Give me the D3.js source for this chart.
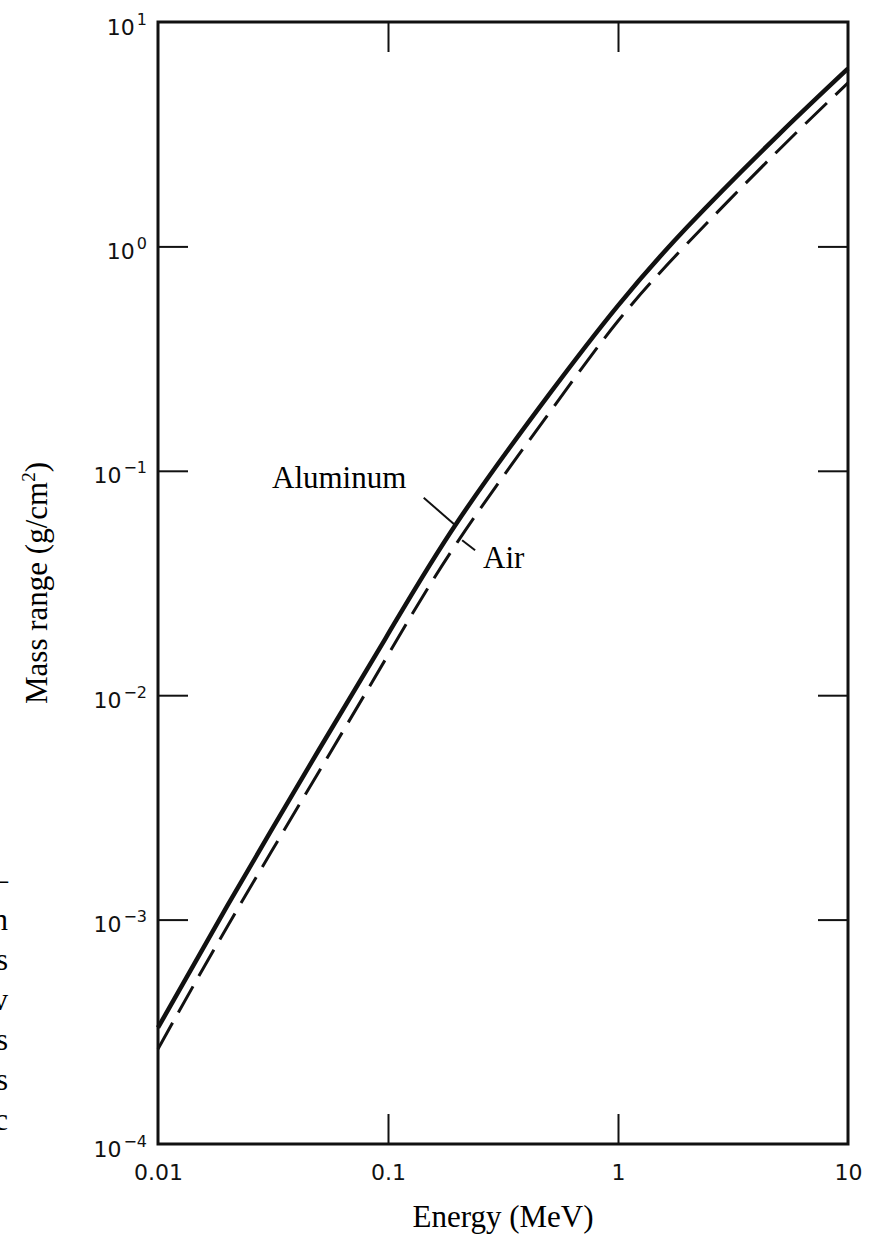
<!DOCTYPE html>
<html>
<head>
<meta charset="utf-8">
<script src="https://cdn.jsdelivr.net/npm/d3@7"></script>
<style>
  body { margin: 0; background: #fff; }
  svg { display: block; }
</style>
</head>
<body>
<div id="chart"></div>
<script>
// electron mass range (MeV -> g/cm2)
const energy   = [0.01, 0.02, 0.05, 0.1, 0.2, 0.5, 1, 2, 5, 10];
const aluminum = [3.3e-4, 1.15e-3, 5.7e-3, 1.87e-2, 5.9e-2, 0.218, 0.545, 1.22, 3.15, 6.2];
const air      = [2.65e-4, 9.3e-4, 4.55e-3, 1.51e-2, 4.8e-2, 0.18, 0.465, 1.03, 2.69, 5.35];

const xTicks = [0.01, 0.1, 1, 10];
const xTickLabels = ['0.01', '0.1', '1', '10'];
const yTicks = [1e-4, 1e-3, 1e-2, 1e-1, 1, 10];
const yTickExp = ['\u22124', '\u22123', '\u22122', '\u22121', '0', '1'];

// stray letters from the neighbouring caption column
const strayText = ['\u2013', 'n', 's', 'v', 's', 's', 'c'];

const width = 878, height = 1236;
const margin = { top: 22, right: 30, bottom: 92, left: 158 };
const x0 = margin.left, x1 = width - margin.right,
      y0 = margin.top,  y1 = height - margin.bottom;

const svg = d3.select('#chart').append('svg')
  .attr('width', width)
  .attr('height', height);

const x = d3.scaleLog().domain([0.01, 10]).range([x0, x1]);
const y = d3.scaleLog().domain([1e-4, 10]).range([y1, y0]);

const tickLen = 30;
const sans = 'DejaVu Sans, sans-serif';
const serif = 'Liberation Serif, Times New Roman, serif';
const serifSize = '31px';

// axes with inward ticks
const axBottom = svg.append('g')
  .attr('transform', `translate(0,${y1})`)
  .call(d3.axisBottom(x).tickValues(xTicks).tickFormat((d, i) => xTickLabels[i])
    .tickSize(-tickLen).tickPadding(0));
const axTop = svg.append('g')
  .attr('transform', `translate(0,${y0})`)
  .call(d3.axisTop(x).tickValues(xTicks.slice(1, -1)).tickFormat('').tickSize(-tickLen));
const axLeft = svg.append('g')
  .attr('transform', `translate(${x0},0)`)
  .call(d3.axisLeft(y).tickValues(yTicks).tickFormat('').tickSize(-tickLen));
const axRight = svg.append('g')
  .attr('transform', `translate(${x1},0)`)
  .call(d3.axisRight(y).tickValues(yTicks.slice(1, -1)).tickFormat('').tickSize(-tickLen));

[axBottom, axTop, axLeft, axRight].forEach(g => {
  g.select('.domain').remove();
  g.selectAll('.tick line').attr('stroke', '#111').attr('stroke-width', 2);
});
axBottom.selectAll('.tick').filter(d => d === 0.01 || d === 10).select('line').remove();
axLeft.selectAll('.tick').filter(d => d === 1e-4 || d === 10).select('line').remove();

axBottom.selectAll('.tick text')
  .attr('y', 36).attr('dy', null)
  .style('font-family', sans).style('font-size', '22px').attr('fill', '#111');

// y labels as 10 with superscript exponent
axLeft.selectAll('.tick text').each(function(d, i) {
  const t = d3.select(this)
    .attr('x', -11).attr('dy', null).attr('y', 12)
    .attr('text-anchor', 'end')
    .style('font-family', sans).style('font-size', '22px').attr('fill', '#111');
  t.append('tspan').text('10');
  t.append('tspan').attr('dx', 2).attr('dy', -10).style('font-size', '16px').text(yTickExp[i]);
});

// frame
svg.append('rect')
  .attr('x', x0).attr('y', y0)
  .attr('width', x1 - x0).attr('height', y1 - y0)
  .attr('fill', 'none').attr('stroke', '#111').attr('stroke-width', 3);

// curves
const line = d3.line()
  .x(d => x(d[0]))
  .y(d => y(d[1]))
  .curve(d3.curveNatural);

svg.append('path')
  .datum(energy.map((e, i) => [e, air[i]]))
  .attr('d', line)
  .attr('fill', 'none').attr('stroke', '#111')
  .attr('stroke-width', 3).attr('stroke-dasharray', '30 12');

svg.append('path')
  .datum(energy.map((e, i) => [e, aluminum[i]]))
  .attr('d', line)
  .attr('fill', 'none').attr('stroke', '#111')
  .attr('stroke-width', 4.5);

// labels with leader lines
const alE = 0.195, airE = 0.21;
svg.append('line')
  .attr('x1', x(alE) - 31).attr('y1', y(0.0575) - 27)
  .attr('x2', x(alE)).attr('y2', y(0.0575))
  .attr('stroke', '#111').attr('stroke-width', 2);
svg.append('text')
  .attr('x', 272).attr('y', 488)
  .style('font-family', serif).style('font-size', serifSize)
  .text('Aluminum');

svg.append('line')
  .attr('x1', x(airE)).attr('y1', y(0.049))
  .attr('x2', x(airE) + 13).attr('y2', y(0.049) + 10)
  .attr('stroke', '#111').attr('stroke-width', 2);
svg.append('text')
  .attr('x', 483).attr('y', 568)
  .style('font-family', serif).style('font-size', serifSize)
  .text('Air');

// axis titles
svg.append('text')
  .attr('x', (x0 + x1) / 2).attr('y', 1227)
  .attr('text-anchor', 'middle')
  .style('font-family', serif).style('font-size', serifSize)
  .text('Energy (MeV)');

const yt = svg.append('text')
  .attr('transform', `translate(47,${(y0 + y1) / 2}) rotate(-90)`)
  .attr('text-anchor', 'middle')
  .style('font-family', serif).style('font-size', serifSize);
yt.append('tspan').text('Mass range (g/cm');
yt.append('tspan').attr('dy', -12).style('font-size', '19px').text('2');
yt.append('tspan').attr('dy', 12).text(')');

// clipped letters at left edge
svg.append('g').selectAll('text')
  .data(strayText)
  .join('text')
  .attr('x', 8).attr('y', (d, i) => 890 + i * 40)
  .attr('text-anchor', 'end')
  .style('font-family', serif).style('font-size', serifSize)
  .text(d => d);
</script>
</body>
</html>
